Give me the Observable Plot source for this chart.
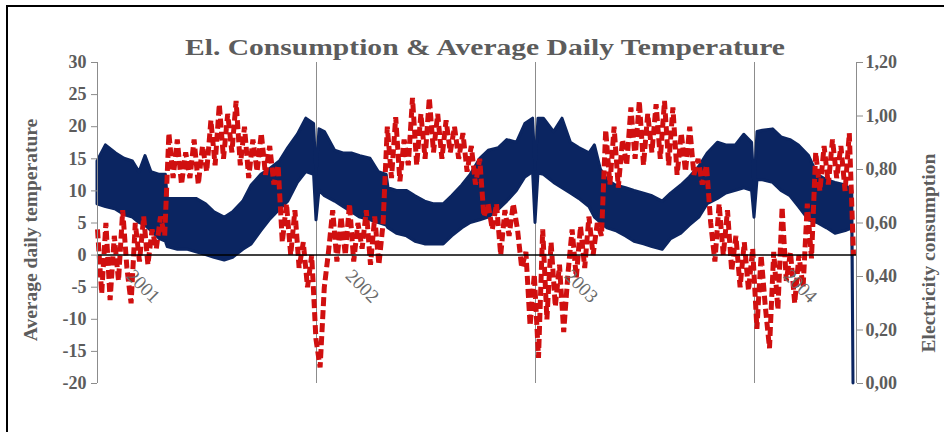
<!DOCTYPE html>
<html><head><meta charset="utf-8">
<script src="https://cdn.jsdelivr.net/npm/d3@7"></script>
<script src="https://cdn.jsdelivr.net/npm/@observablehq/plot@0.6"></script>
<style>
body{margin:0;background:#fff;}
#chart{position:absolute;left:0;top:0;}
#frame{position:absolute;left:6px;top:5px;width:960px;height:460px;border-left:2px solid #000;border-top:2px solid #000;z-index:2;pointer-events:none;}
</style></head><body><div id="chart"></div><div id="frame"></div>
<script>
// ---------- data ----------
const titleText = "El. Consumption & Average Daily Temperature";
const leftTitle = "Average daily temperature";
const rightTitle = "Electricity consumption";
const leftTicks = [-20, -15, -10, -5, 0, 5, 10, 15, 20, 25, 30];
const elecTicks = [0, 0.2, 0.4, 0.6, 0.8, 1.0, 1.2];
const elecTickLabels = ["0,00", "0,20", "0,40", "0,60", "0,80", "1,00", "1,20"];
const yearLabels = ["2001", "2002", "2003", "2004"];
const yearLines = ["2002-01-01", "2003-01-01", "2004-01-01"];
const xDomain = ["2001-01-01", "2004-06-19"];

// electricity consumption: upper (weekday) and lower (weekend) envelope of the daily series
const elecDates = [
"2001-01-01","2001-01-15","2001-02-01","2001-02-15","2001-03-01","2001-03-12","2001-03-22","2001-04-01","2001-04-15","2001-04-25","2001-04-28",
"2001-05-15","2001-06-01","2001-06-15","2001-07-01","2001-07-15","2001-08-01","2001-08-15","2001-09-01","2001-09-15","2001-10-01","2001-10-15",
"2001-11-01","2001-11-15","2001-12-01","2001-12-15","2001-12-28","2002-01-01","2002-01-06","2002-01-15","2002-02-01","2002-02-15","2002-03-01",
"2002-03-15","2002-04-01","2002-04-15","2002-04-28","2002-05-01","2002-05-15","2002-06-01","2002-06-15","2002-07-01","2002-07-15","2002-08-01",
"2002-08-15","2002-09-01","2002-09-15","2002-10-01","2002-10-15","2002-11-01","2002-11-15","2002-12-01","2002-12-15","2002-12-28","2003-01-01",
"2003-01-06","2003-01-15","2003-02-01","2003-02-15","2003-03-01","2003-03-15","2003-04-01","2003-04-10","2003-04-20","2003-05-01","2003-05-15",
"2003-06-01","2003-06-15","2003-07-01","2003-07-15","2003-08-01","2003-08-15","2003-09-01","2003-09-15","2003-10-01","2003-10-15","2003-11-01",
"2003-11-15","2003-12-01","2003-12-15","2003-12-28","2004-01-01","2004-01-06","2004-01-15","2004-02-01","2004-02-15","2004-03-01","2004-03-15",
"2004-04-01","2004-04-15","2004-05-01","2004-05-15","2004-06-01","2004-06-12","2004-06-14"];
const elecHigh = [
0.83,0.89,0.86,0.84,0.83,0.79,0.85,0.79,0.78,0.78,0.69,
0.69,0.69,0.69,0.67,0.64,0.62,0.64,0.68,0.74,0.78,0.80,
0.83,0.88,0.93,0.99,0.97,0.78,0.95,0.94,0.87,0.86,0.86,
0.85,0.84,0.79,0.78,0.73,0.72,0.72,0.70,0.68,0.67,0.67,
0.70,0.74,0.78,0.84,0.87,0.88,0.91,0.90,0.97,0.99,0.80,
0.99,0.99,0.94,0.99,0.90,0.88,0.86,0.89,0.80,0.76,0.74,
0.73,0.72,0.71,0.70,0.68,0.71,0.74,0.77,0.81,0.86,0.90,
0.89,0.89,0.93,0.90,0.73,0.94,0.945,0.95,0.92,0.91,0.89,
0.85,0.78,0.76,0.75,0.74,0.72,0];
const elecLow = [
0.67,0.66,0.65,0.63,0.62,0.60,0.59,0.57,0.54,0.53,0.51,
0.50,0.50,0.49,0.48,0.47,0.46,0.47,0.50,0.52,0.57,0.61,
0.65,0.68,0.75,0.79,0.78,0.61,0.72,0.70,0.68,0.66,0.64,
0.62,0.61,0.60,0.59,0.58,0.56,0.55,0.53,0.52,0.52,0.52,
0.55,0.58,0.60,0.61,0.62,0.65,0.68,0.72,0.77,0.79,0.60,
0.785,0.78,0.75,0.73,0.71,0.69,0.66,0.62,0.60,0.58,0.57,
0.55,0.53,0.52,0.51,0.50,0.54,0.56,0.59,0.62,0.67,0.69,
0.71,0.72,0.73,0.72,0.62,0.76,0.76,0.75,0.72,0.70,0.66,
0.61,0.60,0.58,0.56,0.57,0.58,0];

// average daily temperature, sampled weekly from the start date
const tempStart = "2001-01-01";
const tempStepDays = 7;
const tempValues = [
4,-6,5,-7,3,-4,7,-2,-7.5,5,-1,6,-1.5,4,1,6,3,
19,12,18,11,16,12,18,11,17,13,21,14,23.5,15,22,16,24,14,20,12,18,13,19,12.5,17,11,14,
2,8,0,7,-2,2,-5,0,-13,
-17.5,-5,0.5,7,-1,6,0,8,-1,5,1,7,-1.5,6,-1.5,5,
20,12,21.5,11.5,18,14,24.5,14,22,15,24.5,16,22,15,21,16,20,15,19,13,17,11,15,
6,8,4,8,0,7,3,8,4,-2,0.5,-11,-3,
-16,4,-10,2,-8,-1.5,-12,-3,4,-3.5,4.5,-2,6,0,5,3,
19.5,11,20,10.5,18,14,23,15,24,14,22,16,23.5,15,24,14,23,12.5,19,13,20,12.5,15,11,14,
5,-1,8,0,7,-2.5,3,-5,2,-5.5,1,
-11.5,0,-8,-14.5,0.5,-8.5,7.5,-4,0.5,-7.5,0,-5,8,-0.5,
16,10,17,11,18,12,17,10,19,
0];

// ---------- build ----------
const parse = d3.utcParse("%Y-%m-%d");
const elec = elecDates.map((d, i) => ({date: parse(d), hi: elecHigh[i], lo: elecLow[i]}));
const t0 = parse(tempStart);
const temp = tempValues.map((v, i) => ({date: d3.utcDay.offset(t0, i * tempStepDays), t: v}));
// electricity 0..1.2 shares the temperature pixel range -20..30
const toT = e => -20 + e * 50 / 1.2;
const blue = "#0b2561";
const red = "#d00f0f";
const gray = "#8c8c8c";
const textGray = "#5c5c5c";
const serif = "'Liberation Serif', 'Times New Roman', serif";
const d0 = parse(xDomain[0]), d1 = parse(xDomain[1]);

const chart = Plot.plot({
  width: 944, height: 432,
  marginTop: 62, marginBottom: 49, marginLeft: 97, marginRight: 88,
  style: {fontFamily: serif, background: "transparent", overflow: "visible"},
  x: {type: "utc", domain: [d0, d1], axis: null},
  y: {domain: [-20, 30], axis: null},
  marks: [
    Plot.ruleX(yearLines.map(parse), {stroke: gray, strokeWidth: 1}),
    Plot.areaY(elec, {x: "date", y1: d => toT(d.lo), y2: d => toT(d.hi), fill: blue, stroke: blue, strokeWidth: 3}),
    Plot.lineY(temp, {x: "date", y: "t", stroke: red, strokeWidth: 5, strokeDasharray: "9,4",
      strokeLinecap: "butt", strokeLinejoin: "miter"}),
    Plot.ruleY([0], {stroke: "#000", strokeWidth: 1.5}),
    Plot.ruleX([d0], {stroke: gray, strokeWidth: 1}),
    Plot.ruleX([d1], {stroke: gray, strokeWidth: 1}),
    Plot.axisY({anchor: "left", ticks: leftTicks, tickSize: 6, tickPadding: 5, stroke: gray, fill: textGray,
      fontSize: 18, fontWeight: "bold", label: null, tickFormat: d => String(d)}),
    Plot.axisY({anchor: "right", ticks: elecTicks.map(toT), tickSize: 6, tickPadding: 3, stroke: gray, fill: textGray,
      fontSize: 18, fontWeight: "bold", label: null,
      tickFormat: t => elecTickLabels[elecTicks.findIndex(e => Math.abs(toT(e) - t) < 1e-6)]}),
    Plot.text(yearLabels, {x: d => parse(d + "-01-01"), y: 0, text: d => d, rotate: 45, textAnchor: "start",
      lineAnchor: "bottom", dx: 28, dy: 22, fontSize: 19, fill: "#6a6a6a"}),
    Plot.text([leftTitle], {frameAnchor: "left", dx: -67, dy: 7, rotate: -90, textAnchor: "middle",
      fontSize: 19.5, fontWeight: "bold", fill: textGray}),
    Plot.text([rightTitle], {frameAnchor: "right", dx: 72, dy: 30, rotate: -90, textAnchor: "middle",
      fontSize: 19.5, fontWeight: "bold", fill: textGray}),
    Plot.text([titleText], {frameAnchor: "top", dx: 8, dy: -25, textAnchor: "middle",
      fontSize: 24, fontWeight: "bold", fill: textGray})
  ]
});
document.getElementById("chart").appendChild(chart);
d3.select(chart).selectAll("text").each(function() {
  if (this.textContent === titleText) {
    this.setAttribute("textLength", "600");
    this.setAttribute("lengthAdjust", "spacingAndGlyphs");
  }
});
</script></body></html>
